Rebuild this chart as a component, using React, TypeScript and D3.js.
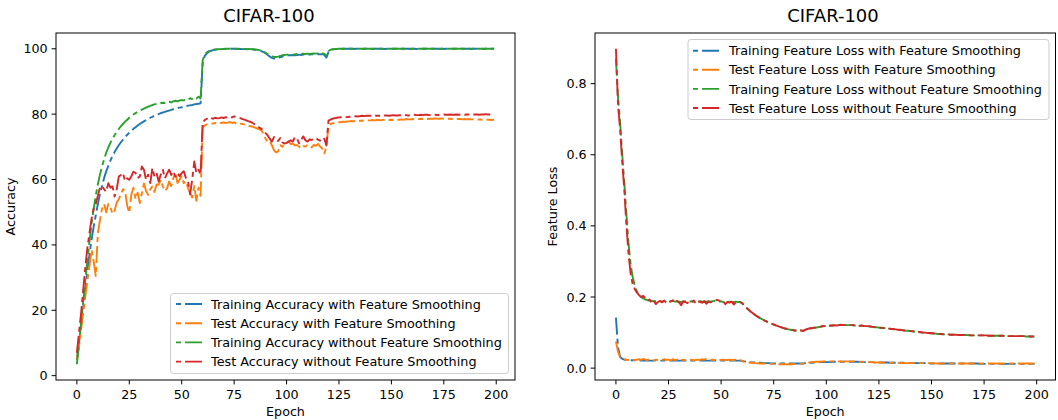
import * as d3 from "d3";
import React from "react";

// epochs 0..199
const epochs = d3.range(200);

const xTicks = [0, 25, 50, 75, 100, 125, 150, 175, 200];
const accTicks = [0, 20, 40, 60, 80, 100];
const lossTicks = [0, 0.2, 0.4, 0.6, 0.8];

const accLabels = [
  "Training Accuracy with Feature Smoothing",
  "Test Accuracy with Feature Smoothing",
  "Training Accuracy without Feature Smoothing",
  "Test Accuracy without Feature Smoothing",
];
const lossLabels = [
  "Training Feature Loss with Feature Smoothing",
  "Test Feature Loss with Feature Smoothing",
  "Training Feature Loss without Feature Smoothing",
  "Test Feature Loss without Feature Smoothing",
];
const colors = ["#1f77b4", "#ff7f0e", "#2ca02c", "#d62728"];

const trainAccFS = [
  5.0, 10.0, 15.5, 21.0, 26.5, 32.0, 37.0, 41.5, 45.5, 49.0,
  52.5, 55.5, 58.0, 60.5, 62.5, 64.2, 65.8, 67.2, 68.4, 69.5,
  70.5, 71.4, 72.2, 73.0, 73.7, 74.3, 74.9, 75.5, 76.0, 76.5,
  77.0, 77.4, 77.8, 78.2, 78.6, 78.9, 79.2, 79.5, 79.8, 80.0,
  80.3, 80.5, 80.7, 80.9, 81.1, 81.3, 81.5, 81.6, 81.8, 82.0,
  82.1, 82.3, 82.4, 82.6, 82.7, 82.8, 83.0, 83.1, 83.2, 83.3,
  95.5, 97.8, 98.6, 99.1, 99.4, 99.6, 99.7, 99.8, 99.85, 99.9,
  99.9, 99.95, 99.95, 100, 100, 100, 99.95, 100, 99.95, 99.9,
  99.9, 99.85, 99.9, 99.85, 99.8, 99.7, 99.6, 99.5, 99.3, 99.0,
  98.6, 98.1, 97.6, 97.2, 97.0, 97.0, 97.2, 97.4, 97.6, 97.8,
  97.9, 98.0, 98.0, 98.1, 98.0, 98.1, 98.2, 98.1, 98.2, 98.2,
  98.3, 98.2, 98.3, 98.3, 98.2, 98.4, 98.3, 98.4, 98.1, 97.3,
  99.0, 99.6, 99.8, 99.9, 99.9, 99.95, 99.95, 100, 100, 100,
  100, 100, 99.95, 100, 100, 100, 99.95, 100, 100, 100,
  100, 99.95, 100, 100, 100, 100, 100, 99.95, 100, 100,
  100, 100, 100, 100, 99.95, 100, 100, 100, 100, 100,
  100, 100, 99.95, 100, 100, 100, 100, 100, 100, 100,
  100, 100, 100, 100, 100, 99.95, 100, 100, 100, 100,
  100, 100, 100, 100, 100, 100, 100, 100, 99.95, 100,
  100, 100, 100, 100, 100, 100, 100, 100, 100, 100,
];

const testAccFS = [
  5.0, 9.0, 14.0, 19.0, 24.0, 29.0, 33.5, 38.5, 35.0, 30.5,
  43.5, 47.5, 51.0, 52.5, 50.0, 52.5, 51.5, 49.5, 50.5, 53.0,
  54.0, 55.5, 57.0, 56.5, 52.0, 49.8, 55.5, 57.5, 54.0, 56.0,
  52.8, 55.8, 58.8, 56.5, 55.3, 57.0, 57.9, 56.2, 58.5, 58.4,
  59.9, 57.9, 56.5, 57.3, 59.4, 58.0, 60.5, 62.0, 58.9, 60.0,
  61.0, 58.9, 59.5, 57.4, 56.0, 54.5, 58.0, 53.5, 57.5, 55.0,
  76.0, 76.6, 76.9, 77.0, 77.2, 77.1, 77.3, 77.2, 77.4, 77.3,
  77.5, 77.3, 77.4, 77.6, 77.3, 77.5, 77.2, 77.4, 77.1, 77.0,
  76.8, 76.7, 76.4, 76.3, 76.1, 75.9, 75.6, 75.4, 75.0, 74.0,
  72.5, 71.5, 71.8, 70.5, 69.0, 68.3, 68.6, 70.5, 70.0, 70.8,
  71.2, 71.6, 70.8, 71.0, 70.4, 70.6, 70.0, 69.5, 70.2, 70.1,
  70.6, 70.2, 69.8, 70.6, 70.3, 70.9, 70.1, 69.5, 68.0, 70.0,
  76.5, 77.0, 77.2, 77.3, 77.5, 77.5, 77.6, 77.7, 77.6, 77.8,
  77.8, 77.9, 77.8, 78.0, 77.9, 78.0, 78.0, 78.1, 78.0, 78.1,
  78.1, 78.2, 78.1, 78.2, 78.2, 78.1, 78.3, 78.2, 78.3, 78.2,
  78.3, 78.2, 78.4, 78.3, 78.3, 78.4, 78.3, 78.5, 78.4, 78.4,
  78.5, 78.4, 78.5, 78.5, 78.6, 78.5, 78.6, 78.5, 78.6, 78.6,
  78.6, 78.7, 78.6, 78.6, 78.7, 78.6, 78.5, 78.6, 78.6, 78.5,
  78.5, 78.6, 78.5, 78.5, 78.4, 78.5, 78.4, 78.5, 78.4, 78.4,
  78.4, 78.3, 78.4, 78.3, 78.3, 78.4, 78.3, 78.3, 78.2, 78.3,
];

const trainAccNoFS = [
  3.5, 9.5, 16.0, 22.5, 29.0, 35.0, 41.0, 46.5, 51.0, 55.0,
  58.5, 61.5, 64.0, 66.2, 68.2, 69.8, 71.2, 72.5, 73.6, 74.6,
  75.5, 76.3, 77.0, 77.7, 78.3, 78.9, 79.4, 79.9, 80.3, 80.7,
  81.1, 81.4, 81.7, 82.0, 82.3, 82.5, 82.8, 83.0, 83.1, 83.3,
  83.4, 83.5, 83.4, 83.7, 83.8, 83.6, 83.9, 84.1, 83.9, 84.2,
  84.3, 84.2, 84.6, 84.4, 84.9, 84.6, 85.1, 84.8, 85.3, 84.8,
  96.5, 98.2, 98.9, 99.3, 99.5, 99.7, 99.8, 99.85, 99.9, 99.9,
  99.95, 100, 100, 100, 99.95, 100, 100, 99.95, 100, 99.95,
  99.95, 99.9, 99.95, 99.9, 99.85, 99.8, 99.7, 99.6, 99.4, 99.1,
  98.8, 98.4, 98.0, 97.7, 97.5, 97.5, 97.6, 97.8, 98.0, 98.1,
  98.2, 98.2, 98.3, 98.2, 98.3, 98.4, 98.3, 98.4, 98.5, 98.4,
  98.5, 98.4, 98.5, 98.6, 98.5, 98.6, 98.5, 98.6, 98.4, 98.1,
  99.3, 99.7, 99.85, 99.9, 99.95, 100, 100, 100, 100, 100,
  100, 100, 100, 99.95, 100, 100, 100, 100, 100, 100,
  100, 100, 100, 100, 100, 100, 99.95, 100, 100, 100,
  100, 100, 100, 100, 100, 100, 100, 100, 100, 99.95,
  100, 100, 100, 100, 100, 100, 100, 100, 100, 100,
  100, 100, 100, 99.95, 100, 100, 100, 100, 100, 100,
  100, 100, 100, 100, 100, 100, 100, 100, 100, 100,
  100, 100, 100, 100, 99.95, 100, 100, 100, 100, 100,
];

const testAccNoFS = [
  7.0, 13.0, 19.0, 26.0, 33.0, 39.0, 43.5, 48.0, 51.0, 52.5,
  55.0, 57.5, 58.0, 57.0, 56.3, 58.9, 57.5, 57.9, 54.8, 57.0,
  60.9, 61.4, 62.0, 59.5, 60.4, 59.9, 61.0, 62.4, 62.0, 60.5,
  60.9, 64.0, 63.0, 59.9, 61.5, 58.9, 63.5, 61.0, 62.0, 59.4,
  61.5, 63.0, 60.4, 61.8, 63.0, 61.4, 62.5, 60.9, 62.0, 61.0,
  62.0, 62.5, 60.5, 59.5, 55.5, 60.0, 65.5, 62.0, 63.0, 61.5,
  77.5, 78.2, 78.6, 78.4, 78.8, 78.6, 78.9, 78.7, 78.8, 79.0,
  78.8, 79.1, 78.9, 79.2, 79.0, 79.3, 79.1, 79.0, 78.8, 78.5,
  78.3, 78.0, 77.8, 77.6, 77.2, 76.8, 76.4, 75.9, 75.5, 75.0,
  74.2, 73.5, 72.5, 71.6, 73.0, 72.4, 71.8, 72.7, 71.4, 71.0,
  71.2, 71.6, 72.0, 71.6, 73.0, 72.5, 71.1, 72.2, 73.2, 72.0,
  71.6, 72.3, 72.1, 72.4, 72.7, 72.2, 71.9, 71.6, 72.5, 70.4,
  78.0, 78.3, 78.6, 78.8, 78.9, 79.0, 79.1, 79.0, 79.2, 79.1,
  79.2, 79.3, 79.2, 79.4, 79.3, 79.4, 79.5, 79.4, 79.5, 79.5,
  79.5, 79.4, 79.6, 79.5, 79.5, 79.6, 79.5, 79.6, 79.6, 79.5,
  79.6, 79.7, 79.6, 79.6, 79.7, 79.6, 79.7, 79.7, 79.6, 79.7,
  79.7, 79.8, 79.7, 79.7, 79.8, 79.7, 79.8, 79.8, 79.7, 79.8,
  79.8, 79.8, 79.7, 79.8, 79.8, 79.9, 79.8, 79.8, 79.9, 79.8,
  79.8, 79.9, 79.8, 79.9, 79.9, 79.8, 79.9, 79.9, 79.8, 79.9,
  79.9, 79.9, 79.8, 79.9, 79.9, 80.0, 79.9, 79.9, 79.9, 80.0,
];

const trainLossFS = [
  0.142, 0.058, 0.032, 0.026, 0.024, 0.023, 0.023, 0.022, 0.022, 0.022,
  0.022, 0.021, 0.022, 0.021, 0.021, 0.022, 0.021, 0.021, 0.021, 0.022,
  0.021, 0.021, 0.021, 0.022, 0.021, 0.021, 0.021, 0.021, 0.022, 0.021,
  0.021, 0.021, 0.021, 0.021, 0.022, 0.021, 0.021, 0.021, 0.021, 0.021,
  0.021, 0.022, 0.021, 0.021, 0.021, 0.021, 0.021, 0.022, 0.021, 0.021,
  0.021, 0.021, 0.021, 0.021, 0.021, 0.021, 0.021, 0.021, 0.021, 0.021,
  0.020, 0.019, 0.018, 0.017, 0.017, 0.016, 0.016, 0.015, 0.015, 0.015,
  0.014, 0.014, 0.014, 0.014, 0.013, 0.013, 0.013, 0.013, 0.013, 0.013,
  0.013, 0.013, 0.013, 0.013, 0.013, 0.013, 0.013, 0.013, 0.013, 0.013,
  0.014, 0.014, 0.015, 0.015, 0.016, 0.016, 0.016, 0.017, 0.017, 0.017,
  0.017, 0.017, 0.017, 0.018, 0.018, 0.018, 0.018, 0.018, 0.018, 0.018,
  0.018, 0.018, 0.018, 0.018, 0.018, 0.018, 0.017, 0.017, 0.017, 0.017,
  0.017, 0.017, 0.017, 0.016, 0.016, 0.016, 0.016, 0.016, 0.016, 0.016,
  0.015, 0.015, 0.015, 0.015, 0.015, 0.015, 0.015, 0.015, 0.014, 0.014,
  0.014, 0.014, 0.014, 0.014, 0.014, 0.014, 0.014, 0.014, 0.014, 0.013,
  0.013, 0.013, 0.013, 0.013, 0.013, 0.013, 0.013, 0.013, 0.013, 0.013,
  0.013, 0.013, 0.013, 0.013, 0.013, 0.013, 0.013, 0.013, 0.013, 0.013,
  0.013, 0.013, 0.013, 0.012, 0.012, 0.012, 0.012, 0.012, 0.012, 0.012,
  0.012, 0.012, 0.012, 0.012, 0.012, 0.012, 0.012, 0.012, 0.012, 0.012,
  0.012, 0.012, 0.012, 0.012, 0.012, 0.012, 0.012, 0.012, 0.012, 0.012,
];

const testLossFS = [
  0.075, 0.046, 0.030, 0.026, 0.025, 0.024, 0.023, 0.024, 0.023, 0.023,
  0.024, 0.025, 0.023, 0.026, 0.024, 0.023, 0.025, 0.024, 0.022, 0.024,
  0.023, 0.024, 0.023, 0.025, 0.023, 0.024, 0.022, 0.025, 0.023, 0.024,
  0.027, 0.023, 0.024, 0.022, 0.024, 0.023, 0.024, 0.022, 0.023, 0.024,
  0.023, 0.025, 0.024, 0.026, 0.024, 0.023, 0.024, 0.023, 0.024, 0.023,
  0.023, 0.024, 0.023, 0.023, 0.024, 0.023, 0.023, 0.024, 0.023, 0.024,
  0.020, 0.018, 0.017, 0.016, 0.015, 0.015, 0.014, 0.014, 0.013, 0.013,
  0.013, 0.013, 0.012, 0.012, 0.012, 0.012, 0.012, 0.011, 0.011, 0.011,
  0.011, 0.011, 0.011, 0.011, 0.011, 0.012, 0.012, 0.012, 0.012, 0.013,
  0.014, 0.015, 0.016, 0.017, 0.017, 0.018, 0.018, 0.018, 0.019, 0.019,
  0.018, 0.019, 0.019, 0.019, 0.018, 0.019, 0.019, 0.019, 0.018, 0.019,
  0.019, 0.019, 0.019, 0.019, 0.018, 0.018, 0.018, 0.018, 0.018, 0.017,
  0.017, 0.017, 0.017, 0.016, 0.016, 0.016, 0.016, 0.016, 0.015, 0.015,
  0.015, 0.015, 0.015, 0.015, 0.015, 0.014, 0.014, 0.014, 0.014, 0.014,
  0.014, 0.014, 0.014, 0.014, 0.014, 0.014, 0.014, 0.014, 0.014, 0.014,
  0.014, 0.014, 0.013, 0.013, 0.013, 0.013, 0.013, 0.013, 0.013, 0.013,
  0.013, 0.013, 0.013, 0.013, 0.013, 0.013, 0.013, 0.013, 0.013, 0.013,
  0.013, 0.013, 0.013, 0.013, 0.013, 0.013, 0.013, 0.013, 0.013, 0.013,
  0.013, 0.013, 0.013, 0.013, 0.013, 0.013, 0.013, 0.013, 0.013, 0.013,
  0.013, 0.013, 0.013, 0.013, 0.013, 0.013, 0.013, 0.013, 0.013, 0.013,
];

const trainLossNoFS = [
  0.870, 0.760, 0.690, 0.600, 0.520, 0.430, 0.350, 0.290, 0.255, 0.232,
  0.215, 0.207, 0.200, 0.196, 0.193, 0.191, 0.190, 0.189, 0.188, 0.188,
  0.187, 0.188, 0.187, 0.189, 0.188, 0.187, 0.188, 0.189, 0.187, 0.188,
  0.187, 0.186, 0.187, 0.188, 0.186, 0.187, 0.188, 0.187, 0.186, 0.187,
  0.188, 0.187, 0.186, 0.187, 0.188, 0.187, 0.188, 0.189, 0.188, 0.187,
  0.188, 0.186, 0.187, 0.186, 0.187, 0.186, 0.186, 0.187, 0.186, 0.186,
  0.182, 0.176, 0.170, 0.164, 0.159, 0.154, 0.150, 0.146, 0.142, 0.139,
  0.136, 0.133, 0.130, 0.127, 0.125, 0.122, 0.120, 0.118, 0.116, 0.114,
  0.112, 0.110, 0.109, 0.108, 0.107, 0.106, 0.105, 0.105, 0.106, 0.105,
  0.108, 0.110, 0.111, 0.112, 0.113, 0.114, 0.115, 0.116, 0.117, 0.118,
  0.118, 0.119, 0.119, 0.120, 0.120, 0.120, 0.121, 0.121, 0.121, 0.121,
  0.121, 0.121, 0.121, 0.120, 0.120, 0.120, 0.119, 0.119, 0.118, 0.118,
  0.117, 0.117, 0.116, 0.115, 0.115, 0.114, 0.113, 0.113, 0.112, 0.111,
  0.111, 0.110, 0.109, 0.109, 0.108, 0.107, 0.107, 0.106, 0.105, 0.105,
  0.104, 0.103, 0.103, 0.102, 0.101, 0.101, 0.100, 0.100, 0.099, 0.098,
  0.098, 0.097, 0.097, 0.096, 0.096, 0.095, 0.095, 0.095, 0.094, 0.094,
  0.094, 0.094, 0.093, 0.093, 0.093, 0.093, 0.093, 0.093, 0.092, 0.092,
  0.092, 0.092, 0.092, 0.092, 0.092, 0.092, 0.091, 0.091, 0.091, 0.091,
  0.091, 0.091, 0.091, 0.091, 0.091, 0.090, 0.090, 0.090, 0.090, 0.090,
  0.090, 0.090, 0.090, 0.090, 0.090, 0.089, 0.089, 0.089, 0.089, 0.089,
];

const testLossNoFS = [
  0.898, 0.740, 0.670, 0.580, 0.500, 0.400, 0.320, 0.265, 0.235, 0.222,
  0.212, 0.205, 0.200, 0.203, 0.196, 0.190, 0.193, 0.183, 0.189, 0.180,
  0.186, 0.189, 0.185, 0.190, 0.184, 0.188, 0.187, 0.191, 0.184, 0.189,
  0.185, 0.177, 0.188, 0.186, 0.183, 0.187, 0.185, 0.190, 0.182, 0.188,
  0.186, 0.184, 0.189, 0.181, 0.187, 0.185, 0.188, 0.190, 0.192, 0.190,
  0.186, 0.188, 0.180, 0.186, 0.184, 0.187, 0.179, 0.185, 0.184, 0.186,
  0.183, 0.177, 0.170, 0.165, 0.159, 0.155, 0.150, 0.146, 0.143, 0.139,
  0.136, 0.133, 0.130, 0.128, 0.125, 0.123, 0.120, 0.118, 0.116, 0.114,
  0.112, 0.111, 0.109, 0.108, 0.107, 0.106, 0.106, 0.104, 0.106, 0.104,
  0.108, 0.110, 0.112, 0.112, 0.114, 0.114, 0.116, 0.116, 0.118, 0.118,
  0.119, 0.119, 0.120, 0.120, 0.121, 0.120, 0.121, 0.122, 0.121, 0.121,
  0.122, 0.121, 0.121, 0.121, 0.120, 0.121, 0.119, 0.120, 0.118, 0.118,
  0.118, 0.117, 0.116, 0.116, 0.115, 0.114, 0.114, 0.113, 0.112, 0.111,
  0.111, 0.110, 0.110, 0.109, 0.108, 0.108, 0.107, 0.106, 0.106, 0.105,
  0.104, 0.104, 0.103, 0.102, 0.102, 0.101, 0.100, 0.100, 0.099, 0.099,
  0.098, 0.098, 0.097, 0.097, 0.096, 0.096, 0.095, 0.095, 0.095, 0.094,
  0.094, 0.094, 0.094, 0.093, 0.093, 0.093, 0.093, 0.093, 0.093, 0.092,
  0.092, 0.092, 0.092, 0.092, 0.092, 0.092, 0.092, 0.091, 0.091, 0.091,
  0.091, 0.091, 0.091, 0.091, 0.091, 0.091, 0.090, 0.090, 0.090, 0.090,
  0.090, 0.090, 0.090, 0.090, 0.090, 0.090, 0.090, 0.089, 0.089, 0.089,
];

const FONT = "'DejaVu Sans', sans-serif";
const DASH = "17,4,5,4";
const TICK = 4.4;

type Frame = { left: number; right: number; top: number; bottom: number };

// matplotlib-style 5% autoscale margins
const padded = (lo: number, hi: number): [number, number] => {
  const m = (hi - lo) * 0.05;
  return [lo - m, hi + m];
};

function Panel({
  frame, series, labels, yTicks, yFmt, yLabel, yLabelX, titleX, legend,
}: {
  frame: Frame; series: number[][]; labels: string[]; yTicks: number[];
  yFmt: (v: number) => string; yLabel: string; yLabelX: number; titleX: number;
  legend: { x: number; y: number; w: number; h: number; textX: number; handleX: number; rowY: number; step: number };
}) {
  const x = d3.scaleLinear()
    .domain(padded(epochs[0], epochs[epochs.length - 1]))
    .range([frame.left, frame.right]);
  const all = series.flat();
  const y = d3.scaleLinear()
    .domain(padded(d3.min(all)!, d3.max(all)!))
    .range([frame.bottom, frame.top]);
  const line = d3.line<number>().x((_v, i) => x(epochs[i])).y((v) => y(v));
  const midX = (frame.left + frame.right) / 2;
  const midY = (frame.top + frame.bottom) / 2;

  return (
    <g fontFamily={FONT} fill="#000">
      <text x={titleX} y={22} fontSize={18} textAnchor="middle">CIFAR-100</text>
      {series.map((s, i) => (
        <path key={i} d={line(s) || ""} fill="none" stroke={colors[i]}
          strokeWidth={1.9} strokeDasharray={DASH} strokeLinejoin="round" />
      ))}
      <rect x={frame.left} y={frame.top} width={frame.right - frame.left}
        height={frame.bottom - frame.top} fill="none" stroke="#000" strokeWidth={1} />
      {xTicks.map((t) => (
        <g key={t}>
          <line x1={x(t)} x2={x(t)} y1={frame.bottom} y2={frame.bottom + TICK} stroke="#000" />
          <text x={x(t)} y={frame.bottom + 18.5} fontSize={12.7} textAnchor="middle">{t}</text>
        </g>
      ))}
      {yTicks.map((t) => (
        <g key={t}>
          <line x1={frame.left - TICK} x2={frame.left} y1={y(t)} y2={y(t)} stroke="#000" />
          <text x={frame.left - 8.4} y={y(t)} dy="0.36em" fontSize={12.7} textAnchor="end">{yFmt(t)}</text>
        </g>
      ))}
      <text x={midX} y={416} fontSize={12.7} textAnchor="middle">Epoch</text>
      <text transform={`translate(${yLabelX},${midY}) rotate(-90)`} fontSize={12.7} textAnchor="middle">{yLabel}</text>
      <rect x={legend.x} y={legend.y} width={legend.w} height={legend.h} rx={3}
        fill="#fff" fillOpacity={0.8} stroke="#cccccc" strokeWidth={1} />
      {labels.map((lab, i) => {
        const ry = legend.rowY + i * legend.step;
        return (
          <g key={lab}>
            <line x1={legend.handleX} x2={legend.handleX + 26} y1={ry} y2={ry}
              stroke={colors[i]} strokeWidth={1.9} strokeDasharray={DASH} strokeDashoffset={21} />
            <text x={legend.textX} y={ry} dy="0.36em" fontSize={12.8}>{lab}</text>
          </g>
        );
      })}
    </g>
  );
}

export default function App() {
  return (
    <div style={{ position: "absolute", left: 0, top: 0 }}>
      <svg width={1058} height={420} style={{ display: "block", background: "#fff" }}>
        <Panel
          frame={{ left: 56, right: 515, top: 33, bottom: 380 }}
          series={[trainAccFS, testAccFS, trainAccNoFS, testAccNoFS]}
          labels={accLabels}
          yTicks={accTicks}
          yFmt={(v) => String(v)}
          yLabel="Accuracy"
          yLabelX={15}
          titleX={269}
          legend={{ x: 170.5, y: 293.5, w: 338, h: 80, textX: 211, handleX: 176, rowY: 304, step: 19.2 }}
        />
        <Panel
          frame={{ left: 595, right: 1055.5, top: 33, bottom: 380 }}
          series={[trainLossFS, testLossFS, trainLossNoFS, testLossNoFS]}
          labels={lossLabels}
          yTicks={lossTicks}
          yFmt={(v) => v.toFixed(1)}
          yLabel="Feature Loss"
          yLabelX={557}
          titleX={833}
          legend={{ x: 688, y: 39.5, w: 361, h: 80, textX: 729, handleX: 693, rowY: 50.7, step: 19.1 }}
        />
      </svg>
    </div>
  );
}
